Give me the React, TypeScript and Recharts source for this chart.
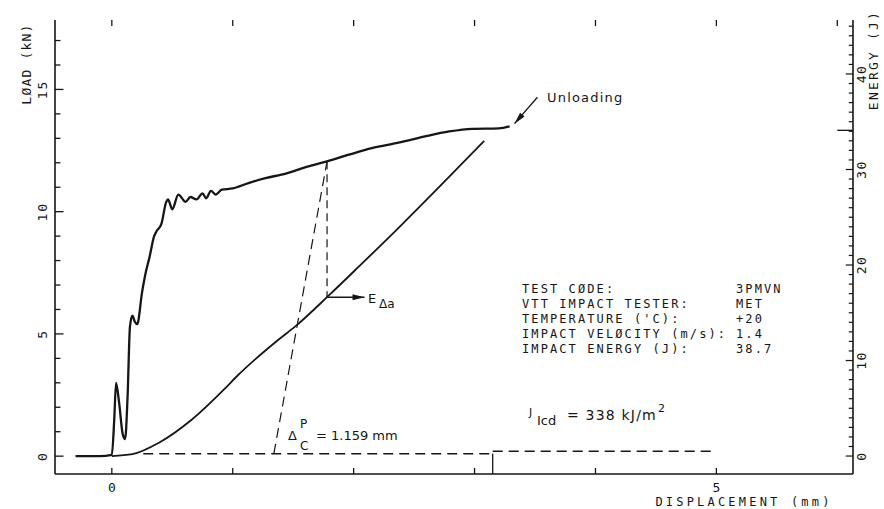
import React from 'react'
import { ComposedChart, Line, XAxis, YAxis, ReferenceLine } from 'recharts'

const INK = '#161616'
const MONO = '"DejaVu Sans Mono", monospace'
const SANS = '"DejaVu Sans", sans-serif'

// load trace: displacement (mm) -> load (kN)
const loadX = [
  -0.3, -0.1, 0.0, 0.02, 0.035, 0.06, 0.09, 0.11, 0.13, 0.15, 0.17, 0.19, 0.21,
  0.25, 0.28, 0.31, 0.35, 0.37, 0.41, 0.45, 0.465, 0.5, 0.55, 0.61, 0.65, 0.7,
  0.75, 0.78, 0.82, 0.86, 0.91, 1.0, 1.13, 1.27, 1.44, 1.61, 1.78, 1.96, 2.15,
  2.38, 2.6, 2.79, 2.98, 3.2, 3.29,
]
const loadKN = [
  0, 0, 0.05, 1.5, 3.0, 2.2, 0.9, 0.7, 2.4, 5.3, 5.75, 5.5, 5.4,
  6.7, 7.5, 8.1, 9.0, 9.2, 9.5, 10.4, 10.5, 10.1, 10.7, 10.4, 10.6, 10.5,
  10.75, 10.55, 10.85, 10.7, 10.9, 10.95, 11.17, 11.37, 11.56, 11.83, 12.06, 12.33, 12.6,
  12.83, 13.09, 13.28, 13.39, 13.41, 13.49,
]

// absorbed energy: displacement (mm) -> energy (J)
const energyX = [0, 0.17, 0.39, 0.66, 0.93, 1.03, 1.38, 1.52, 1.81, 2.04, 2.38, 2.71, 3.08]
const energyJ = [0, 0.2, 1.4, 3.8, 7.0, 8.3, 12.2, 13.6, 17.0, 19.8, 24.0, 28.2, 33.0]

// construction lines (mm, kN)
const baseLeftX = [0.26, 3.15]
const baseLeftY = [0.1, 0.1]
const stepX = [3.15, 3.15]
const stepY = [-0.73, 0.1]
const baseRightX = [3.15, 5.0]
const baseRightY = [0.2, 0.2]
const slopeX = [1.34, 1.78]
const slopeY = [0.1, 12.06]
const dropX = [1.78, 1.78]
const dropY = [12.06, 6.5]
const eArrowX = [1.78, 2.09]
const eArrowY = [6.5, 6.5]
const unloadX = [3.52, 3.33]
const unloadY = [14.68, 13.6]
// long marker tick on the energy scale (mm, J)
const energyMarkX = [6.0, 6.13]
const energyMarkY = [34.1, 34.1]

// axis ranges (mm, kN, J)
const X_MIN = -0.47
const X_MAX = 6.13
const LOAD_MIN = -0.73
const LOAD_MAX = 17.84
const E_MIN = -1.88
const E_MAX = 45.65

const loadTicks = [0, 1, 2, 3, 4, 5, 6, 7, 8, 9, 10, 11, 12, 13, 14, 15, 16, 17]
const loadLabels = [0, 5, 10, 15]
const energyTicks = [
  0, 1, 2, 3, 4, 5, 6, 7, 8, 9, 10, 11, 12, 13, 14, 15, 16, 17, 18, 19, 20, 21, 22,
  23, 24, 25, 26, 27, 28, 29, 30, 31, 32, 33, 34, 35, 36, 37, 38, 39, 40, 41, 42, 43, 44, 45,
]
const energyLabels = [0, 10, 20, 30, 40]
const dispTicks = [0, 1, 2, 3, 4, 5]
const dispTopTicks = [0, 1, 2, 3, 4, 5, 6]
const dispLabels = [0, 5]

const infoLabels = [
  'TEST CØDE:',
  'VTT IMPACT TESTER:',
  "TEMPERATURE ('C):",
  'IMPACT VELØCITY (m/s):',
  'IMPACT ENERGY (J):',
]
const infoValues = ['3PMVN', 'MET', '+20', '1.4', '38.7']

const zip = (xs: number[], ys: number[]) => xs.map((x, i) => ({ x, y: ys[i] }))

const LeftTick = (p: any) => {
  const { x, y, payload } = p
  const v = payload.value
  if (!loadLabels.includes(v)) return <g />
  const tx = x - 12
  return (
    <text x={tx} y={y} transform={`rotate(-90 ${tx} ${y})`} textAnchor="middle" dominantBaseline="central"
      fontFamily={MONO} fontSize={13} letterSpacing={2} fill={INK}>{v}</text>
  )
}

const RightTick = (p: any) => {
  const { x, y, payload } = p
  const v = payload.value
  if (!energyLabels.includes(v)) return <g />
  const tx = x + 9
  return (
    <text x={tx} y={y} transform={`rotate(-90 ${tx} ${y})`} textAnchor="middle" dominantBaseline="central"
      fontFamily={MONO} fontSize={13} letterSpacing={1.5} fill={INK}>{v}</text>
  )
}

const BottomTick = (p: any) => {
  const { x, y, payload } = p
  const v = payload.value
  if (!dispLabels.includes(v)) return <g />
  return (
    <text x={x} y={y + 13} textAnchor="middle" dominantBaseline="central"
      fontFamily={MONO} fontSize={13} fill={INK}>{v}</text>
  )
}

export default function App() {
  const axisLine = { stroke: INK, strokeWidth: 1.6 }
  const tickLine = { stroke: INK, strokeWidth: 1.3 }
  const dash = '10 6'
  return (
    <div style={{ position: 'absolute', left: 0, top: 0, width: 884, height: 509, background: '#fff' }}>
      <svg width={0} height={0} style={{ position: 'absolute' }}>
        <defs>
          <marker id="arrowHead" viewBox="0 0 12 6" refX={12} refY={3} markerWidth={14} markerHeight={6}
            markerUnits="userSpaceOnUse" orient="auto">
            <path d="M0,0 L12,3 L0,6 z" fill={INK} />
          </marker>
        </defs>
      </svg>
      <ComposedChart width={884} height={509} margin={{ top: 20, right: 0, bottom: 0, left: 0 }}>
        <XAxis xAxisId="b" type="number" dataKey="x" domain={[X_MIN, X_MAX]} allowDataOverflow
          ticks={dispTicks} interval={0} orientation="bottom" height={35}
          tickSize={-6} tickMargin={6} tickLine={tickLine} axisLine={axisLine}
          tick={(p: any) => <BottomTick {...p} />} />
        <XAxis xAxisId="t" type="number" dataKey="x" domain={[X_MIN, X_MAX]} allowDataOverflow
          ticks={dispTopTicks} interval={0} orientation="top" height={0}
          tickLine={false} axisLine={axisLine} tick={false} />
        <YAxis yAxisId="load" type="number" domain={[LOAD_MIN, LOAD_MAX]} allowDataOverflow
          ticks={loadTicks} interval={0} orientation="left" width={55}
          tickSize={0} tickMargin={0} tickLine={false} axisLine={axisLine}
          tick={(p: any) => <LeftTick {...p} />} />
        <YAxis yAxisId="energy" type="number" domain={[E_MIN, E_MAX]} allowDataOverflow
          ticks={energyTicks} interval={0} orientation="right" width={31}
          tickSize={0} tickMargin={0} tickLine={false} axisLine={axisLine}
          tick={(p: any) => <RightTick {...p} />} />

        {/* inward tick marks on the left, right and top frame */}
        {loadTicks.map(v => (
          <ReferenceLine key={'lt' + v} xAxisId="b" yAxisId="load" stroke={INK} strokeWidth={1.3}
            segment={[{ x: X_MIN, y: v }, { x: X_MIN + (loadLabels.includes(v) ? 0.07 : 0.045), y: v }]} />
        ))}
        {energyTicks.map(v => (
          <ReferenceLine key={'et' + v} xAxisId="b" yAxisId="energy" stroke={INK} strokeWidth={1.2}
            segment={[{ x: X_MAX - (energyLabels.includes(v) ? 0.06 : 0.035), y: v }, { x: X_MAX, y: v }]} />
        ))}
        {dispTopTicks.map(v => (
          <ReferenceLine key={'tt' + v} xAxisId="b" yAxisId="load" stroke={INK} strokeWidth={1.3}
            segment={[{ x: v, y: LOAD_MAX }, { x: v, y: LOAD_MAX - 0.25 }]} />
        ))}

        <Line data={zip(baseLeftX, baseLeftY)} dataKey="y" xAxisId="b" yAxisId="load" type="linear"
          stroke={INK} strokeWidth={1.4} strokeDasharray={dash} dot={false} isAnimationActive={false} />
        <Line data={zip(stepX, stepY)} dataKey="y" xAxisId="b" yAxisId="load" type="linear"
          stroke={INK} strokeWidth={1.3} dot={false} isAnimationActive={false} />
        <Line data={zip(baseRightX, baseRightY)} dataKey="y" xAxisId="b" yAxisId="load" type="linear"
          stroke={INK} strokeWidth={1.4} strokeDasharray={dash} dot={false} isAnimationActive={false} />
        <Line data={zip(slopeX, slopeY)} dataKey="y" xAxisId="b" yAxisId="load" type="linear"
          stroke={INK} strokeWidth={1.2} strokeDasharray={dash} dot={false} isAnimationActive={false} />
        <Line data={zip(dropX, dropY)} dataKey="y" xAxisId="b" yAxisId="load" type="linear"
          stroke={INK} strokeWidth={1.2} strokeDasharray="8 5" dot={false} isAnimationActive={false} />
        <Line data={zip(eArrowX, eArrowY)} dataKey="y" xAxisId="b" yAxisId="load" type="linear"
          stroke={INK} strokeWidth={1.4} markerEnd="url(#arrowHead)" dot={false} isAnimationActive={false} />
        <Line data={zip(unloadX, unloadY)} dataKey="y" xAxisId="b" yAxisId="load" type="linear"
          stroke={INK} strokeWidth={1.3} markerEnd="url(#arrowHead)" dot={false} isAnimationActive={false} />
        <Line data={zip(energyMarkX, energyMarkY)} dataKey="y" xAxisId="b" yAxisId="energy" type="linear"
          stroke={INK} strokeWidth={1.3} dot={false} isAnimationActive={false} />

        <Line data={zip(energyX, energyJ)} dataKey="y" xAxisId="b" yAxisId="energy" type="monotone"
          stroke={INK} strokeWidth={1.8} dot={false} isAnimationActive={false} />
        <Line data={zip(loadX, loadKN)} dataKey="y" xAxisId="b" yAxisId="load" type="monotone"
          stroke={INK} strokeWidth={2.3} dot={false} isAnimationActive={false} />
      </ComposedChart>

      <svg width={884} height={509} style={{ position: 'absolute', left: 0, top: 0, pointerEvents: 'none' }}>
        <g fill={INK}>
          <text x={26} y={64} transform="rotate(-90 26 64)" textAnchor="middle" dominantBaseline="central"
            fontFamily={MONO} fontSize={13} letterSpacing={1.2}>LØAD (kN)</text>
          <text x={873} y={60} transform="rotate(-90 873 60)" textAnchor="middle" dominantBaseline="central"
            fontFamily={MONO} fontSize={13} letterSpacing={2.2}>ENERGY (J)</text>
          <text x={744} y={502} textAnchor="middle" dominantBaseline="central"
            fontFamily={MONO} fontSize={12} letterSpacing={3.2}>DISPLACEMENT (mm)</text>

          <text x={547} y={97} dominantBaseline="central" fontFamily={SANS} fontSize={13} letterSpacing={1.2}>Unloading</text>

          {infoLabels.map((t, i) => (
            <text key={t} x={522} y={289 + i * 15} dominantBaseline="central"
              fontFamily={MONO} fontSize={12} letterSpacing={2.1}>{t}</text>
          ))}
          {infoValues.map((t, i) => (
            <text key={t} x={736} y={289 + i * 15} dominantBaseline="central"
              fontFamily={MONO} fontSize={12} letterSpacing={2.1}>{t}</text>
          ))}

          <text x={368} y={298} dominantBaseline="central" fontFamily={SANS} fontSize={13}>E</text>
          <text x={379} y={304} dominantBaseline="central" fontFamily={SANS} fontSize={12}>Δa</text>

          <text x={288} y={435} dominantBaseline="central" fontFamily={SANS} fontSize={13}>Δ</text>
          <text x={300} y={424} dominantBaseline="central" fontFamily={SANS} fontSize={12}>P</text>
          <text x={300} y={446} dominantBaseline="central" fontFamily={SANS} fontSize={12}>C</text>
          <text x={316} y={435} dominantBaseline="central" fontFamily={SANS} fontSize={13}>= 1.159 mm</text>

          <text x={529} y={412} dominantBaseline="central" fontFamily={SANS} fontSize={11}>J</text>
          <text x={537} y={420} dominantBaseline="central" fontFamily={SANS} fontSize={13}>Icd</text>
          <text x={567} y={415} dominantBaseline="central" fontFamily={SANS} fontSize={14} letterSpacing={1.2}>= 338 kJ/m</text>
          <text x={658} y={408} dominantBaseline="central" fontFamily={SANS} fontSize={11}>2</text>
        </g>
      </svg>
    </div>
  )
}
